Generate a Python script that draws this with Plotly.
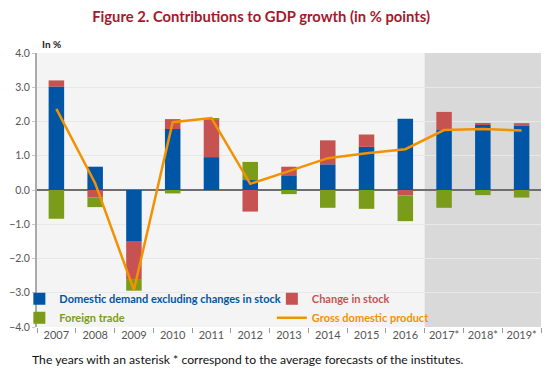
import plotly.graph_objects as go

years = ["2007", "2008", "2009", "2010", "2011", "2012", "2013", "2014", "2015", "2016", "2017*", "2018*", "2019*"]
domestic = [3.02, 0.68, -1.51, 1.78, 0.96, 0.29, 0.43, 0.75, 1.26, 2.08, 1.75, 1.90, 1.88]
stock = [0.18, -0.22, -1.09, 0.29, 1.11, -0.63, 0.25, 0.70, 0.36, -0.16, 0.53, 0.05, 0.07]
foreign = [-0.84, -0.28, -0.34, -0.10, 0.03, 0.53, -0.12, -0.52, -0.55, -0.75, -0.52, -0.15, -0.22]
gdp = [2.37, 0.20, -2.92, 1.98, 2.10, 0.18, 0.55, 0.93, 1.07, 1.19, 1.75, 1.78, 1.74]

BLUE = "#0055a5"
RED = "#c65252"
GREEN = "#7a9c1a"
ORANGE = "#f39200"

def lbl(text, color):
    return "<span style='color:%s'><b>%s</b></span>" % (color, text)

fig = go.Figure()
fig.add_trace(go.Bar(x=years, y=domestic, name=lbl("Domestic demand excluding changes in stock", BLUE),
                     marker=dict(color=BLUE, line=dict(width=0)), width=0.4, legend="legend"))
fig.add_trace(go.Bar(x=years, y=stock, name=lbl("Change in stock", RED),
                     marker=dict(color=RED, line=dict(width=0)), width=0.4, legend="legend2"))
fig.add_trace(go.Bar(x=years, y=foreign, name=lbl("Foreign trade", GREEN),
                     marker=dict(color=GREEN, line=dict(width=0)), width=0.4, legend="legend"))
fig.add_trace(go.Scatter(x=years, y=gdp, name=lbl("Gross domestic product", ORANGE), mode="lines",
                         line=dict(color=ORANGE, width=2.5), legend="legend2"))

first_fc = next(i for i, y in enumerate(years) if "*" in y)
fig.add_shape(type="rect", xref="x", yref="paper", x0=first_fc - 0.5, x1=len(years) - 0.5,
              y0=0, y1=1, fillcolor="#d9d9d9", line=dict(width=0), layer="below")

leg_common = dict(orientation="v", yanchor="top", xanchor="left", bgcolor="rgba(0,0,0,0)",
                  font=dict(family="Lato", size=11), tracegroupgap=0, itemwidth=30,
                  traceorder="normal")

fig.update_layout(
    width=542, height=365,
    margin=dict(l=29, r=9, t=45, b=46, autoexpand=False),
    barmode="relative",
    paper_bgcolor="white",
    plot_bgcolor="#f4f4f4",
    font=dict(family="Lato", size=11, color="#555555"),
    title=dict(text="<b>Figure 2. Contributions to GDP growth (in % points)</b>",
               x=0.467, xanchor="center", y=0.975, yanchor="middle",
               font=dict(family="Lato", size=14.8, color="#a3192b")),
    showlegend=True,
    legend=dict(x=-0.035, y=0.156, **leg_common),
    legend2=dict(x=0.466, y=0.156, **leg_common),
    xaxis=dict(type="category", tickson="boundaries", ticks="outside", ticklen=5,
               tickcolor="#999999", showgrid=False, showline=False, tickangle=0,
               tickfont=dict(size=11, color="#555555")),
    yaxis=dict(range=[-4, 4], dtick=1, tickformat=".1f", showgrid=True,
               gridcolor="#e8e8e8", gridwidth=1, zeroline=True, zerolinecolor="#6e6e6e",
               zerolinewidth=1.5, showline=True, linecolor="#aaaaaa", linewidth=2,
               ticks="outside", ticklen=3, tickcolor="#c8c8c8", ticklabelstandoff=0,
               tickfont=dict(size=10.5, color="#555555")),
)

fig.add_annotation(text="<b>In %</b>", xref="paper", yref="paper", x=0.006, y=1.033,
                   xanchor="left", yanchor="middle", showarrow=False,
                   font=dict(family="Lato", size=10, color="#222222"))
fig.add_annotation(text="The years with an asterisk * correspond to the average forecasts of the institutes.",
                   xref="paper", yref="paper", x=-0.014, y=-0.118, xanchor="left", yanchor="middle",
                   showarrow=False, font=dict(family="Lato", size=12.2, color="#111111"))

fig.write_html("out.html")
